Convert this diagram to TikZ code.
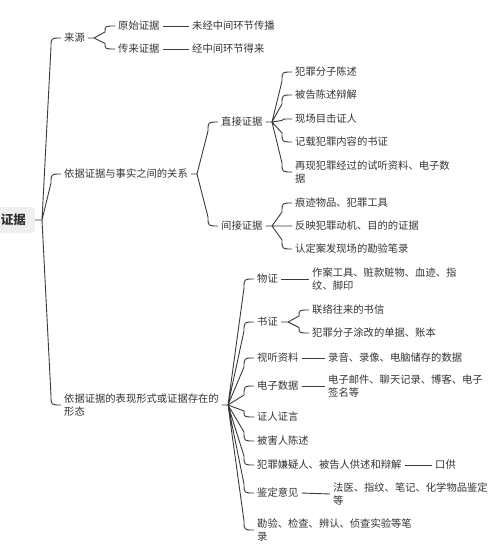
\documentclass[tikz,border=0pt]{standalone}
\usepackage{fontspec}
\setmainfont{Noto Sans CJK SC}
\usetikzlibrary{calc}
\definecolor{ink}{HTML}{333333}
\definecolor{edge}{HTML}{3A3A3A}
\definecolor{rootfill}{HTML}{EFEFEF}
\tikzset{
  lbl/.style={anchor=west, inner xsep=3pt, inner ysep=0pt, text=ink,
    font=\fontsize{10.3}{13.5}\selectfont, align=left},
  rootnode/.style={fill=rootfill, rounded corners=4pt, text=ink,
    font=\fontsize{12.5}{14}\selectfont\bfseries, inner xsep=9pt, minimum height=26pt},
  edgeline/.style={draw=edge, line width=0.9pt},
  br/.style={to path={let \p1=(\tikztostart), \p2=(\tikztotarget),
    \n1={((\y1>\y2) ? 1 : -1)*min(9,abs(\y1-\y2)/2)} in
    -- ({\x2-10pt},{\y2+\n1}) .. controls ({\x2-10pt},\y2) .. (\tikztotarget)}},
}
\begin{document}
\begin{tikzpicture}[x=1pt,y=-1pt]
\useasboundingbox (0,0) rectangle (500,545);
% root
\node[rootnode] (R) at (13.5,220) {证据};
\coordinate (r0) at (42,220);
% level 1
\node[lbl] (A) at (61,38) {来源};
\node[lbl] (B) at (61,174) {依据证据与事实之间的关系};
\node[lbl] (C) at (61,405) {依据证据的表现形式或证据存在的\\形态};
% A branch
\coordinate (a0) at (94,38);
\node[lbl] (A1) at (115,26) {原始证据};
\node[lbl] (A1x) at (189,26) {未经中间环节传播};
\node[lbl] (A2) at (115,49) {传来证据};
\node[lbl] (A2x) at (189,49) {经中间环节得来};
% B branch
\coordinate (b0) at (197,174);
\node[lbl] (B1) at (218,122) {直接证据};
\coordinate (b1) at (272,122);
\node[lbl] (B11) at (292,72) {犯罪分子陈述};
\node[lbl] (B12) at (292,95) {被告陈述辩解};
\node[lbl] (B13) at (292,119) {现场目击证人};
\node[lbl] (B14) at (292,142) {记载犯罪内容的书证};
\node[lbl] (B15) at (292,172) {再现犯罪经过的试听资料、电子数\\据};
\node[lbl] (B2) at (218,226) {间接证据};
\coordinate (b2) at (272,226);
\node[lbl] (B21) at (292,203) {痕迹物品、犯罪工具};
\node[lbl] (B22) at (292,226) {反映犯罪动机、目的的证据};
\node[lbl] (B23) at (292,249) {认定案发现场的勘验笔录};
% C branch
\coordinate (c0) at (228,405);
\node[lbl] (C1) at (254,279) {物证};
\node[lbl] (C1x) at (309,279) {作案工具、赃款赃物、血迹、指\\纹、脚印};
\node[lbl] (C2) at (254,322) {书证};
\coordinate (c2) at (288,322);
\node[lbl] (C21) at (309,310) {联络往来的书信};
\node[lbl] (C22) at (309,333) {犯罪分子涂改的单据、账本};
\node[lbl] (C3) at (254,358) {视听资料};
\node[lbl] (C3x) at (325,358) {录音、录像、电脑储存的数据};
\node[lbl] (C4) at (254,386) {电子数据};
\node[lbl] (C4x) at (325,386) {电子邮件、聊天记录、博客、电子\\签名等};
\node[lbl] (C5) at (254,417) {证人证言};
\node[lbl] (C6) at (254,441) {被害人陈述};
\node[lbl] (C7) at (254,465) {犯罪嫌疑人、被告人供述和辩解};
\node[lbl] (C7x) at (432,465) {口供};
\node[lbl] (C8) at (254,493) {鉴定意见};
\node[lbl] (C8x) at (330,494) {法医、指纹、笔记、化学物品鉴定\\等};
\node[lbl] (C9) at (254,530) {勘验、检查、辨认、侦查实验等笔\\录};
% connectors
\draw[edgeline] (R.east) -- (r0)
  (r0) to[br] (A.west) (r0) to[br] (B.west) (r0) to[br] (C.west);
\draw[edgeline] (A.east) -- (a0) (a0) to[br] (A1.west) (a0) to[br] (A2.west);
\draw[edgeline] (A1.east) -- (A1x.west) (A2.east) -- (A2x.west);
\draw[edgeline] (B.east) -- (b0) (b0) to[br] (B1.west) (b0) to[br] (B2.west);
\draw[edgeline] (B1.east) -- (b1)
  (b1) to[br] (B11.west) (b1) to[br] (B12.west) (b1) to[br] (B13.west)
  (b1) to[br] (B14.west) (b1) to[br] (B15.west);
\draw[edgeline] (B2.east) -- (b2)
  (b2) to[br] (B21.west) (b2) -- (B22.west) (b2) to[br] (B23.west);
\draw[edgeline] (C.east) -- (c0)
  (c0) to[br] (C1.west) (c0) to[br] (C2.west) (c0) to[br] (C3.west)
  (c0) to[br] (C4.west) (c0) to[br] (C5.west) (c0) to[br] (C6.west)
  (c0) to[br] (C7.west) (c0) to[br] (C8.west) (c0) to[br] (C9.west);
\draw[edgeline] (C1.east) -- (C1x.west);
\draw[edgeline] (C2.east) -- (c2) (c2) to[br] (C21.west) (c2) to[br] (C22.west);
\draw[edgeline] (C3.east) -- (C3x.west);
\draw[edgeline] (C4.east) -- (C4x.west);
\draw[edgeline] (C7.east) -- (C7x.west);
\draw[edgeline] (C8.east) -- (C8x.west);
\end{tikzpicture}
\end{document}
